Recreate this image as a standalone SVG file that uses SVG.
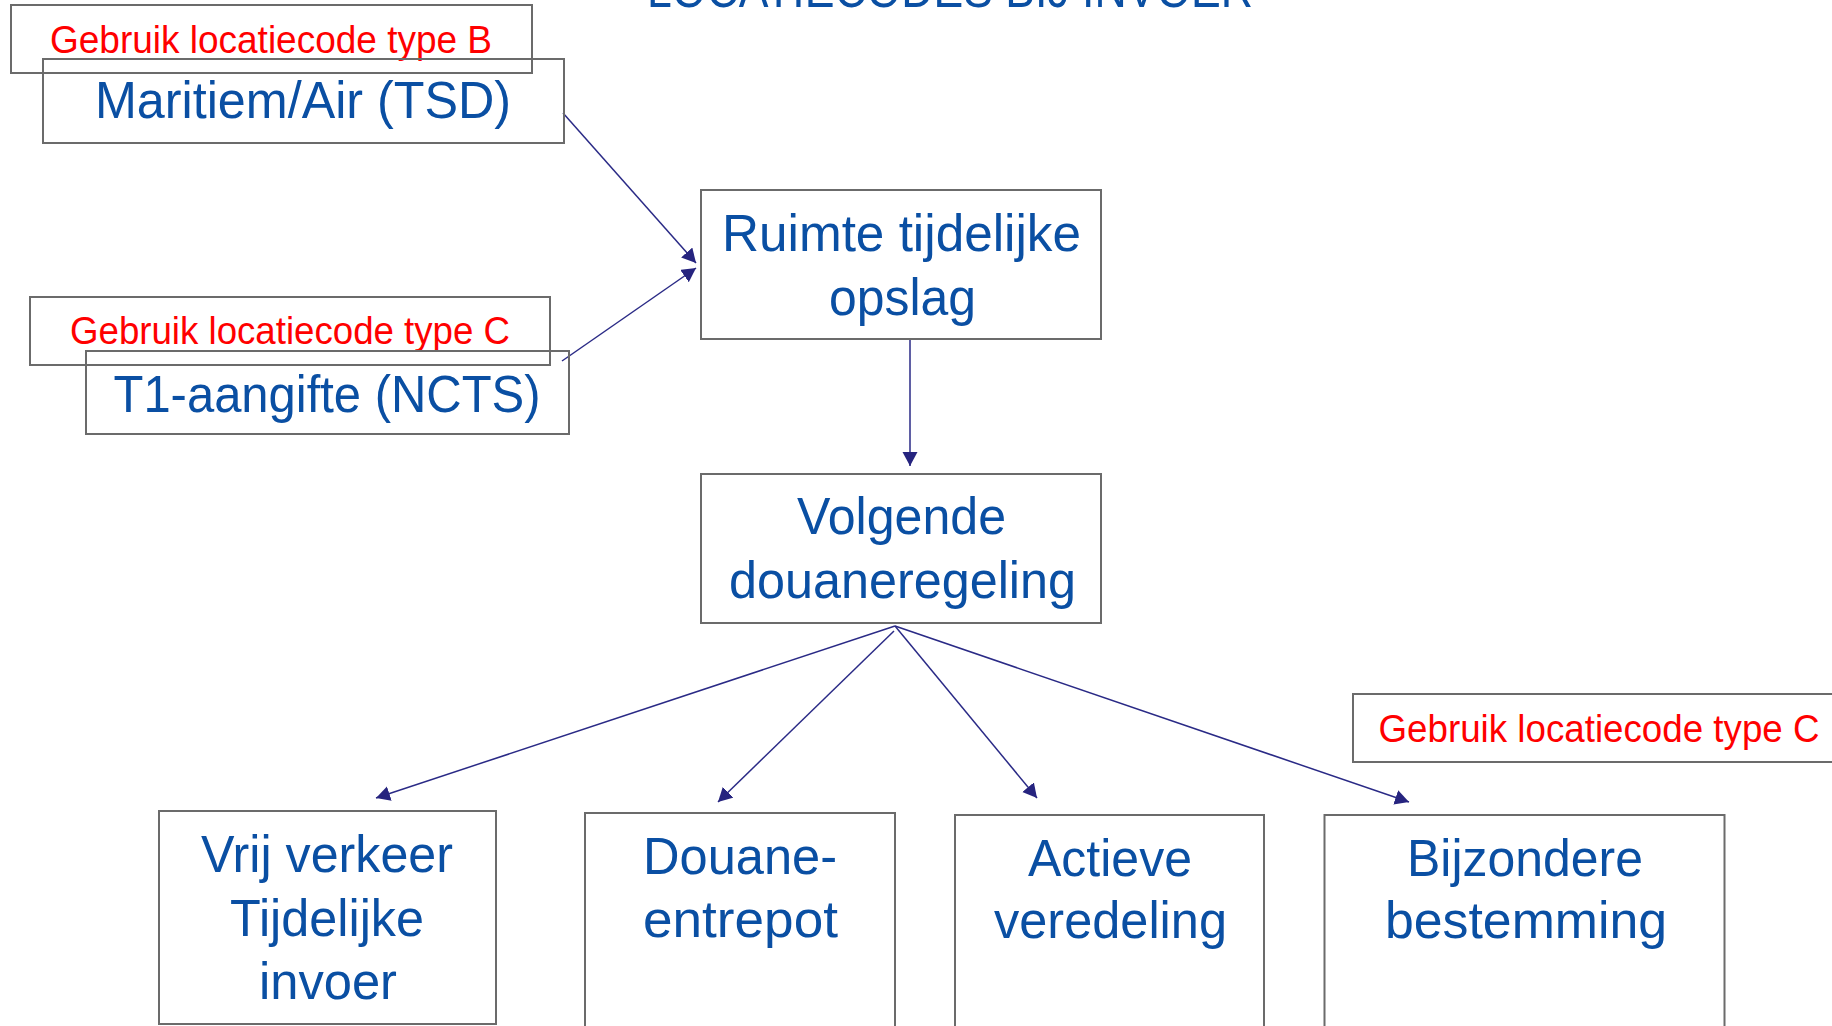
<svg xmlns="http://www.w3.org/2000/svg" width="1832" height="1026" viewBox="0 0 1832 1026">
<style>
.box{fill:none;stroke:#6b6b6b;stroke-width:2}
.t{font-family:"Liberation Sans","Open Sans",sans-serif;fill:#0a4fa3;font-size:52px;text-anchor:middle}
.r{font-family:"Liberation Sans","Open Sans",sans-serif;fill:#ff0000;font-size:38px;text-anchor:middle}
.c{fill:none;stroke:#2a2a86;stroke-width:1.5}
</style>
<defs>
<marker id="ah" markerUnits="userSpaceOnUse" markerWidth="16" markerHeight="16" refX="14" refY="7.5" orient="auto">
<path d="M0,0 L14,7.5 L0,15 z" fill="#26247f"/>
</marker>
</defs>
<rect width="1832" height="1026" fill="#ffffff"/>
<text id="title" class="t" x="950" y="7" font-size="50" textLength="606" lengthAdjust="spacingAndGlyphs">LOCATIECODES BIJ INVOER</text>

<g id="connectors">
<line class="c" x1="563" y1="113" x2="696" y2="263" marker-end="url(#ah)"/>
<line class="c" x1="562" y1="361" x2="696" y2="268" marker-end="url(#ah)"/>
<line class="c" x1="910" y1="339" x2="910" y2="466" marker-end="url(#ah)"/>
<line class="c" x1="895" y1="626" x2="376" y2="798" marker-end="url(#ah)"/>
<line class="c" x1="894" y1="631" x2="718" y2="802" marker-end="url(#ah)"/>
<line class="c" x1="895" y1="626" x2="1037" y2="798" marker-end="url(#ah)"/>
<line class="c" x1="895" y1="626" x2="1409" y2="802" marker-end="url(#ah)"/>
</g>

<g id="label-b">
<rect class="box" x="11" y="5" width="521" height="68"/>
<text class="r" x="271" y="53" textLength="442" lengthAdjust="spacingAndGlyphs">Gebruik locatiecode type B</text>
</g>
<g id="maritiem">
<rect class="box" x="43" y="59" width="521" height="84"/>
<text class="t" x="303" y="118" textLength="416" lengthAdjust="spacingAndGlyphs">Maritiem/Air (TSD)</text>
</g>
<g id="label-c-left">
<rect class="box" x="30" y="297" width="520" height="68"/>
<text class="r" x="290" y="344" textLength="440" lengthAdjust="spacingAndGlyphs">Gebruik locatiecode type C</text>
</g>
<g id="t1">
<rect class="box" x="86" y="351" width="483" height="83"/>
<text class="t" x="327" y="412" textLength="427" lengthAdjust="spacingAndGlyphs">T1-aangifte (NCTS)</text>
</g>
<g id="ruimte">
<rect class="box" x="701" y="190" width="400" height="149"/>
<text class="t" x="901.5" y="251" textLength="359" lengthAdjust="spacingAndGlyphs">Ruimte tijdelijke</text>
<text class="t" x="902.5" y="315" textLength="147" lengthAdjust="spacingAndGlyphs">opslag</text>
</g>
<g id="volgende">
<rect class="box" x="701" y="474" width="400" height="149"/>
<text class="t" x="901.5" y="534" textLength="209" lengthAdjust="spacingAndGlyphs">Volgende</text>
<text class="t" x="902.5" y="598" textLength="347" lengthAdjust="spacingAndGlyphs">douaneregeling</text>
</g>
<g id="vrij">
<rect class="box" x="159" y="811" width="337" height="213"/>
<text class="t" x="327" y="872" textLength="252" lengthAdjust="spacingAndGlyphs">Vrij verkeer</text>
<text class="t" x="327" y="936" textLength="194" lengthAdjust="spacingAndGlyphs">Tijdelijke</text>
<text class="t" x="328" y="999" textLength="138" lengthAdjust="spacingAndGlyphs">invoer</text>
</g>
<g id="douane">
<rect class="box" x="585" y="813" width="310" height="215"/>
<text class="t" x="740" y="874" textLength="194" lengthAdjust="spacingAndGlyphs">Douane-</text>
<text class="t" x="740.5" y="937" textLength="195" lengthAdjust="spacingAndGlyphs">entrepot</text>
</g>
<g id="actieve">
<rect class="box" x="955" y="815" width="309" height="215"/>
<text class="t" x="1110" y="876" textLength="164" lengthAdjust="spacingAndGlyphs">Actieve</text>
<text class="t" x="1110.5" y="938" textLength="233" lengthAdjust="spacingAndGlyphs">veredeling</text>
</g>
<g id="bijzondere">
<rect class="box" x="1324.5" y="815" width="400" height="215"/>
<text class="t" x="1525" y="876" textLength="236" lengthAdjust="spacingAndGlyphs">Bijzondere</text>
<text class="t" x="1526" y="938" textLength="282" lengthAdjust="spacingAndGlyphs">bestemming</text>
</g>
<g id="label-c-right">
<rect class="box" x="1353" y="694" width="500" height="68"/>
<text class="r" x="1599" y="742" textLength="441" lengthAdjust="spacingAndGlyphs">Gebruik locatiecode type C</text>
</g>
</svg>
